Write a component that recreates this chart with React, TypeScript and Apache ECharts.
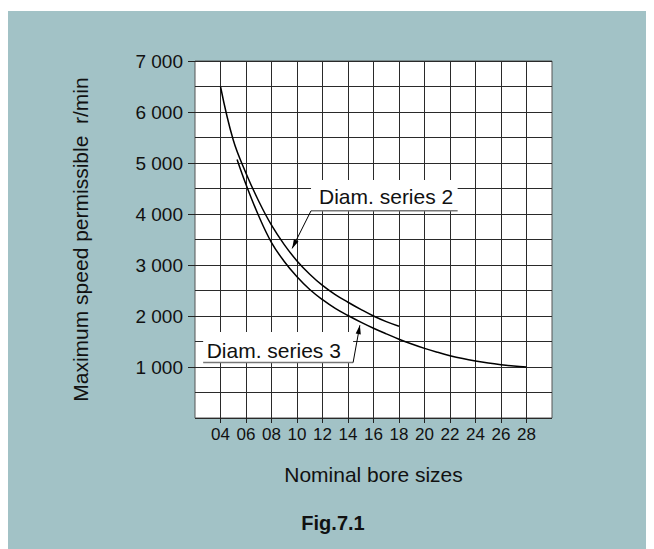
import React, { useEffect, useRef } from 'react';
import * as echarts from 'echarts';

// Axis ticks (labels)
const boreTicks = [4, 6, 8, 10, 12, 14, 16, 18, 20, 22, 24, 26, 28];
const speedTicks = [1000, 2000, 3000, 4000, 5000, 6000, 7000];

// Diam. series 2 (upper curve)
const sizes2 = [4, 5, 6, 7, 8, 9, 10, 11, 12, 13, 14, 15, 16, 17, 18];
const speeds2 = [6500, 5450, 4800, 4250, 3780, 3400, 3080, 2820, 2600, 2420, 2270, 2130, 2000, 1890, 1800];

// Diam. series 3 (lower curve)
const sizes3 = [5.3, 6, 7, 8, 9, 10, 11, 12, 13, 14, 15, 16, 17, 18, 19, 20, 21, 22, 23, 24, 25, 26, 27, 28];
const speeds3 = [5070, 4580, 3960, 3440, 3070, 2770, 2520, 2320, 2150, 2010, 1880, 1760, 1650, 1545, 1450, 1365, 1290, 1222, 1165, 1118, 1078, 1045, 1018, 1000];

const seriesNames = ['Diam. series 2', 'Diam. series 3'];

const FONT = "'Liberation Sans', Arial, sans-serif";

export default function App() {
  const ref = useRef<HTMLDivElement>(null);
  useEffect(() => {
    if (!ref.current) return;
    const chart = echarts.init(ref.current, null, { renderer: 'svg' });
    const pad = (v: number) => (v < 10 ? '0' + v : String(v));
    const fmtSpeed = (v: number) => `${Math.floor(v / 1000)} ${String(v % 1000).padStart(3, '0')}`;
    const gridLine = { show: true, lineStyle: { color: '#2a2a2a', width: 1 } };
    const option: any = {
      animation: false,
      backgroundColor: '#a2c2c6',
      grid: {
        left: 187, top: 50, width: 357, height: 357,
        show: true, backgroundColor: '#ffffff', borderColor: '#555', borderWidth: 1,
        outerBoundsMode: 'none', containLabel: false,
      },
      xAxis: [
        {
          type: 'value', min: 2, max: 30, interval: 2,
          name: 'Nominal bore sizes', nameLocation: 'middle', nameGap: 46,
          nameTextStyle: { fontFamily: FONT, fontSize: 21, color: '#111' },
          axisLine: { show: false },
          axisTick: { show: true, customValues: boreTicks, length: 5, lineStyle: { color: '#222' } },
          axisLabel: {
            customValues: boreTicks, formatter: (v: number) => pad(v), margin: 8,
            fontFamily: FONT, fontSize: 17, color: '#111',
          },
          splitLine: gridLine,
        },
      ],
      yAxis: [
        {
          type: 'value', min: 0, max: 7000, interval: 500,
          name: 'Maximum speed permissible  r/min', nameLocation: 'middle', nameGap: 104,
          nameTextStyle: { fontFamily: FONT, fontSize: 21, color: '#111' },
          axisLine: { show: false },
          axisTick: { show: true, customValues: speedTicks, length: 7, lineStyle: { color: '#222' } },
          axisLabel: {
            customValues: speedTicks, formatter: (v: number) => fmtSpeed(v), margin: 12,
            fontFamily: FONT, fontSize: 19, color: '#111',
          },
          splitLine: { show: false },
        },
        {
          type: 'value', min: 0, max: 7000, interval: 500, position: 'left',
          axisLine: { show: false }, axisTick: { show: false }, axisLabel: { show: false },
          splitLine: gridLine,
        },
      ],
      series: [
        {
          name: seriesNames[0], type: 'line', smooth: 0.4, showSymbol: false, symbol: 'none',
          lineStyle: { color: '#000', width: 1.5 },
          data: sizes2.map((x, i) => [x, speeds2[i]]), z: 3,
        },
        {
          name: seriesNames[1], type: 'line', smooth: 0.4, showSymbol: false, symbol: 'none',
          lineStyle: { color: '#000', width: 1.5 },
          data: sizes3.map((x, i) => [x, speeds3[i]]), z: 3,
        },
      ],
    };
    chart.setOption(option);

    const toPx = (p: number[]) => chart.convertToPixel({ gridIndex: 0 }, p) as number[];
    const notes = [
      { text: seriesNames[0], box: [11.1, 4063, 22.6, 4665], tip: [9.62, 3325], from: 'left', padX: 8, dy: 1 },
      { text: seriesNames[1], box: [2.64, 1087, 14.4, 1688], tip: [14.93, 1819], from: 'right', padX: 3.5, dy: 3 },
    ];
    const graphic: any[] = [];
    notes.forEach((n) => {
      const [x0, y0] = toPx([n.box[0], n.box[1]]);
      const [x1, y1] = toPx([n.box[2], n.box[3]]);
      const [tx, ty] = toPx(n.tip);
      graphic.push({ type: 'rect', shape: { x: x0, y: y1, width: x1 - x0, height: y0 - y1 }, style: { fill: '#fff' }, z: 50 });
      graphic.push({ type: 'line', shape: { x1: x0, y1: y0, x2: x1, y2: y0 }, style: { stroke: '#777', lineWidth: 1.5 }, z: 51 });
      const sx = n.from === 'left' ? x0 : x1;
      const sy = y0;
      graphic.push({ type: 'line', shape: { x1: sx, y1: sy, x2: tx, y2: ty }, style: { stroke: '#000', lineWidth: 1 }, z: 51 });
      const ang = Math.atan2(ty - sy, tx - sx);
      const L = 9, W = 2.6;
      const bx = tx - L * Math.cos(ang), by = ty - L * Math.sin(ang);
      const nx = -Math.sin(ang) * W, ny = Math.cos(ang) * W;
      graphic.push({ type: 'polygon', shape: { points: [[tx, ty], [bx + nx, by + ny], [bx - nx, by - ny]] }, style: { fill: '#000' }, z: 52 });
      graphic.push({
        type: 'text', x: x0 + n.padX, y: (y0 + y1) / 2 + n.dy, z: 53,
        style: { text: n.text, fontFamily: FONT, fontSize: 21, fill: '#111', verticalAlign: 'middle' },
      });
    });
    graphic.push({
      type: 'text', x: 325, y: 512, z: 53,
      style: { text: 'Fig.7.1', fontFamily: FONT, fontSize: 20, fontWeight: 'bold', fill: '#111', align: 'center', verticalAlign: 'middle' },
    });
    chart.setOption({ graphic });
    return () => chart.dispose();
  }, []);
  return <div ref={ref} style={{ width: 646, height: 538, marginTop: 3 }} />;
}
